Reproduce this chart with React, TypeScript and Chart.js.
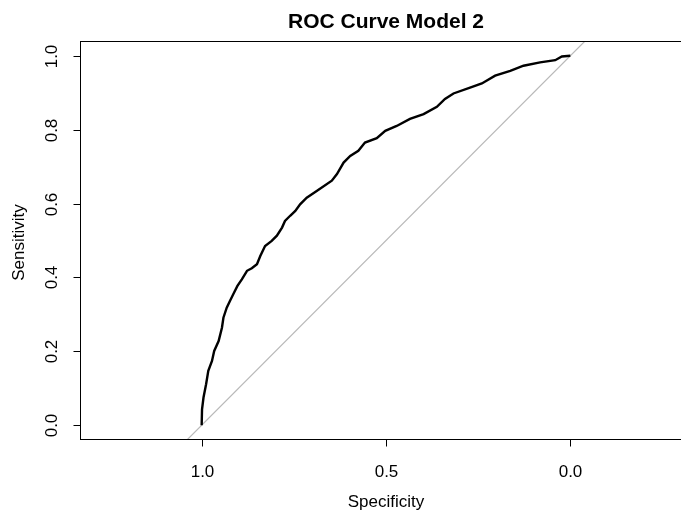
import React, { useEffect, useRef } from "react";
import { Chart, registerables } from "chart.js";

Chart.register(...registerables);

const titleText = "ROC Curve Model 2";
const xTitle = "Specificity";
const yTitle = "Sensitivity";

const specificity = [
  1.0, 0.999, 0.995, 0.988, 0.982, 0.972, 0.966, 0.954, 0.945, 0.941,
  0.932, 0.923, 0.914, 0.903, 0.891, 0.877, 0.864, 0.85, 0.841, 0.828,
  0.81, 0.796, 0.782, 0.774, 0.76, 0.746, 0.733, 0.715, 0.688, 0.647,
  0.633, 0.615, 0.597, 0.575, 0.557, 0.525, 0.502, 0.471, 0.435, 0.398,
  0.362, 0.34, 0.317, 0.272, 0.24, 0.204, 0.163, 0.127, 0.082, 0.041,
  0.023, 0.0,
];
const sensitivity = [
  0.0, 0.043, 0.075, 0.111, 0.147, 0.174, 0.201, 0.228, 0.264, 0.291,
  0.318, 0.337, 0.355, 0.377, 0.395, 0.418, 0.425, 0.436, 0.458, 0.485,
  0.499, 0.513, 0.535, 0.553, 0.567, 0.58, 0.598, 0.616, 0.634, 0.662,
  0.68, 0.711, 0.729, 0.743, 0.765, 0.777, 0.797, 0.81, 0.829, 0.842,
  0.862, 0.883, 0.898, 0.914, 0.925, 0.946, 0.959, 0.973, 0.982, 0.988,
  0.998, 1.0,
];

const diagSpec = [1.5, -0.5];
const diagSens = [-0.5, 1.5];

const xTicks = [1.0, 0.5, 0.0];
const yTicks = [0.0, 0.2, 0.4, 0.6, 0.8, 1.0];

const X_MIN = -0.33;
const X_MAX = 1.33;
const Y_MIN = -0.04;
const Y_MAX = 1.04;

const FONT = "'Liberation Sans', Arial, Helvetica, sans-serif";

const rPlotPlugin = {
  id: "rPlot",
  afterDraw(chart: any) {
    const { ctx, chartArea: a, scales } = chart;
    const x = scales.x;
    const y = scales.y;
    ctx.save();
    ctx.strokeStyle = "#000";
    ctx.lineWidth = 1;
    const L = Math.round(a.left) + 0.5;
    const T = Math.round(a.top) + 0.5;
    const R = Math.round(a.right) - 0.5;
    const B = Math.round(a.bottom) - 0.5;
    ctx.strokeRect(L, T, R - L, B - T);

    ctx.fillStyle = "#000";
    ctx.font = `17px ${FONT}`;
    ctx.textAlign = "center";
    ctx.textBaseline = "alphabetic";
    xTicks.forEach((v) => {
      const px = Math.round(x.getPixelForValue(v)) + 0.5;
      ctx.beginPath();
      ctx.moveTo(px, B);
      ctx.lineTo(px, B + 7);
      ctx.stroke();
      ctx.fillText(v.toFixed(1), px, 477);
    });
    yTicks.forEach((v) => {
      const py = Math.round(y.getPixelForValue(v)) + 0.5;
      ctx.beginPath();
      ctx.moveTo(L, py);
      ctx.lineTo(L - 7, py);
      ctx.stroke();
      ctx.save();
      ctx.translate(57, py);
      ctx.rotate(-Math.PI / 2);
      ctx.fillText(v.toFixed(1), 0, 0);
      ctx.restore();
    });
    ctx.fillText(xTitle, (a.left + a.right) / 2, 507);
    ctx.save();
    ctx.translate(24, (a.top + a.bottom) / 2 + 2);
    ctx.rotate(-Math.PI / 2);
    ctx.fillText(yTitle, 0, 0);
    ctx.restore();
    ctx.font = `bold 21px ${FONT}`;
    ctx.fillText(titleText, (a.left + a.right) / 2, 28);
    ctx.restore();
  },
};

export default function App() {
  const ref = useRef<HTMLCanvasElement | null>(null);
  useEffect(() => {
    if (!ref.current) return;
    const chart = new Chart(ref.current, {
      type: "scatter",
      data: {
        datasets: [
          {
            label: "ROC",
            data: specificity.map((s, i) => ({ x: s, y: sensitivity[i] })),
            showLine: true,
            borderColor: "#000",
            backgroundColor: "#000",
            borderWidth: 2.4,
            pointRadius: 0,
            tension: 0,
            order: 0,
          },
          {
            label: "diag",
            data: diagSpec.map((s, i) => ({ x: s, y: diagSens[i] })),
            showLine: true,
            borderColor: "#b8b8b8",
            backgroundColor: "#b8b8b8",
            borderWidth: 1.2,
            pointRadius: 0,
            order: 1,
          },
        ],
      },
      options: {
        responsive: false,
        animation: false,
        devicePixelRatio: 1,
        layout: { padding: { left: 80, top: 41, right: 8, bottom: 72 } },
        plugins: {
          legend: { display: false },
          tooltip: { enabled: false },
          title: { display: false },
        },
        scales: {
          x: { type: "linear", reverse: true, min: X_MIN, max: X_MAX, display: false },
          y: { type: "linear", min: Y_MIN, max: Y_MAX, display: false },
        },
      },
      plugins: [rPlotPlugin],
    });
    return () => chart.destroy();
  }, []);
  return (
    <div
      style={{
        position: "fixed",
        left: 0,
        top: 0,
        width: 681,
        height: 512,
        overflow: "hidden",
        background: "#fff",
      }}
    >
      <canvas ref={ref} width={700} height={512} style={{ display: "block" }} />
    </div>
  );
}
